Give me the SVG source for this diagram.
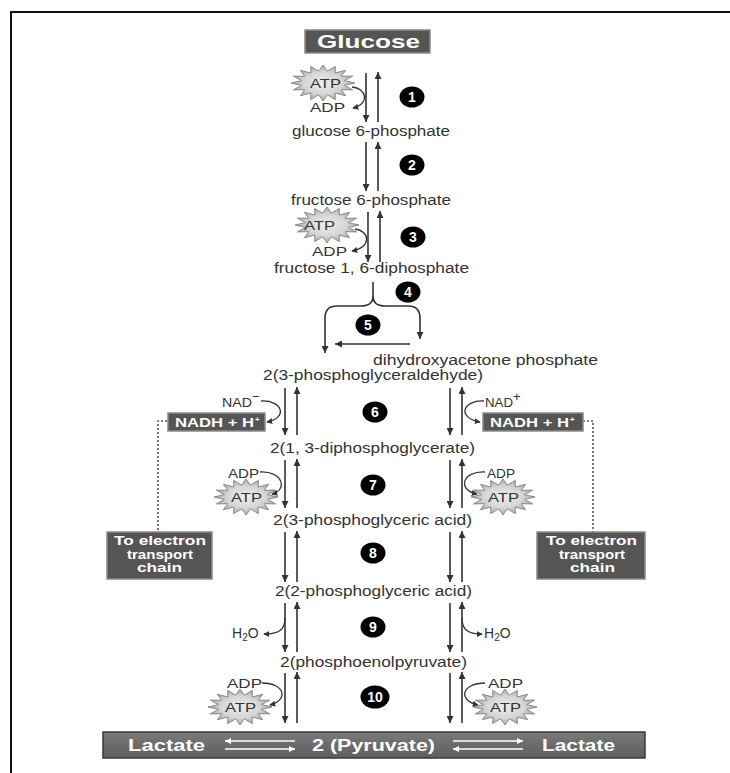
<svg xmlns="http://www.w3.org/2000/svg" width="730" height="773" viewBox="0 0 730 773">
<defs>
<style>
.lbl{font-family:"Liberation Sans",Arial,sans-serif;font-size:14px;fill:#333}
.sm{font-family:"Liberation Sans",Arial,sans-serif;font-size:13px;fill:#333}
.wb{font-family:"Liberation Sans",Arial,sans-serif;font-weight:bold;fill:#fff}
.num{font-family:"Liberation Sans",Arial,sans-serif;font-weight:bold;font-size:14px;fill:#fff;text-anchor:middle}
.ar{stroke:#333;stroke-width:1.6;fill:none;marker-end:url(#ah)}
.cv{stroke:#333;stroke-width:1.3;fill:none;marker-end:url(#ahs)}
.wa{stroke:#fff;stroke-width:1.4;fill:none;marker-end:url(#ahw)}
.dot{stroke:#555;stroke-width:1.6;fill:none;stroke-dasharray:2 2}
.box{fill:#555;stroke:#8a8a8a;stroke-width:1.5}
.star{fill:url(#sg);stroke:#8a8a8a;stroke-width:1}
</style>
<radialGradient id="sg" cx="50%" cy="50%" r="50%">
<stop offset="0" stop-color="#ececec"/>
<stop offset="0.6" stop-color="#d6d6d6"/>
<stop offset="1" stop-color="#a8a8a8"/>
</radialGradient>
<linearGradient id="bg" x1="0" y1="0" x2="0" y2="1">
<stop offset="0" stop-color="#7a7a7a"/>
<stop offset="1" stop-color="#5e5e5e"/>
</linearGradient>
<marker id="ah" viewBox="0 0 8 8" markerWidth="7" markerHeight="7" refX="8" refY="4" orient="auto" markerUnits="userSpaceOnUse">
<path d="M0,0 L8,4 L0,8 z" fill="#333"/>
</marker>
<marker id="ahs" viewBox="0 0 8 8" markerWidth="6" markerHeight="6" refX="7" refY="4" orient="auto" markerUnits="userSpaceOnUse">
<path d="M0,0 L8,4 L0,8 z" fill="#333"/>
</marker>
<marker id="ahw" viewBox="0 0 8 8" markerWidth="7" markerHeight="6" refX="8" refY="4" orient="auto" markerUnits="userSpaceOnUse">
<path d="M0,0 L8,4 L0,8 z" fill="#fff"/>
</marker>
<path id="burst" d="M32,0 L21.6,2.3 L29.6,6.9 L18.3,6.7 L22.6,12.7 L12.2,10 L12.3,16.6 L4.3,11.8 L0,18 L-4.3,11.8 L-12.3,16.6 L-12.2,10 L-22.6,12.7 L-18.3,6.7 L-29.6,6.9 L-21.6,2.3 L-32,0 L-21.6,-2.3 L-29.6,-6.9 L-18.3,-6.7 L-22.6,-12.7 L-12.2,-10 L-12.3,-16.6 L-4.3,-11.8 L0,-18 L4.3,-11.8 L12.3,-16.6 L12.2,-10 L22.6,-12.7 L18.3,-6.7 L29.6,-6.9 L21.6,-2.3 Z"/>
</defs>

<rect x="0" y="0" width="730" height="773" fill="#fff"/>
<g id="frame" stroke="#111" stroke-width="2" fill="none">
<line x1="10" y1="12" x2="730" y2="12"/>
<line x1="11" y1="11" x2="11" y2="773"/>
</g>

<g id="connectors">
<line class="ar" x1="366" y1="73" x2="366" y2="122"/>
<line class="ar" x1="378" y1="122" x2="378" y2="72"/>
<line class="ar" x1="366" y1="142" x2="366" y2="191"/>
<line class="ar" x1="378" y1="191" x2="378" y2="142"/>
<line class="ar" x1="368" y1="212" x2="368" y2="262"/>
<line class="ar" x1="380" y1="262" x2="380" y2="211"/>
<path class="cv" d="M352,87 C367,88 370,104 353,108"/>
<path class="cv" d="M355,229 C370,231 372,247 352,251"/>
<path class="ar" d="M373,282 L373,296 Q373,306 361,306 L337,306 Q325,306 325,318 L325,353"/>
<path class="ar" d="M373,296 Q373,306 385,306 L408,306 Q420,306 420,318 L420,339"/>
<line class="ar" x1="410" y1="344" x2="335" y2="344"/>
<line class="ar" x1="285" y1="388" x2="285" y2="435"/>
<line class="ar" x1="297" y1="435" x2="297" y2="387"/>
<line class="ar" x1="285" y1="460" x2="285" y2="508"/>
<line class="ar" x1="297" y1="508" x2="297" y2="459"/>
<line class="ar" x1="285" y1="532" x2="285" y2="582"/>
<line class="ar" x1="297" y1="582" x2="297" y2="531"/>
<line class="ar" x1="285" y1="603" x2="285" y2="652"/>
<line class="ar" x1="297" y1="652" x2="297" y2="602"/>
<line class="ar" x1="285" y1="673" x2="285" y2="723"/>
<line class="ar" x1="297" y1="723" x2="297" y2="672"/>
<line class="ar" x1="450" y1="388" x2="450" y2="435"/>
<line class="ar" x1="462" y1="435" x2="462" y2="387"/>
<line class="ar" x1="450" y1="460" x2="450" y2="508"/>
<line class="ar" x1="462" y1="508" x2="462" y2="459"/>
<line class="ar" x1="450" y1="532" x2="450" y2="582"/>
<line class="ar" x1="462" y1="582" x2="462" y2="531"/>
<line class="ar" x1="450" y1="603" x2="450" y2="652"/>
<line class="ar" x1="462" y1="652" x2="462" y2="602"/>
<line class="ar" x1="450" y1="673" x2="450" y2="723"/>
<line class="ar" x1="462" y1="723" x2="462" y2="672"/>
<path class="cv" d="M261,401 C283,400 288,418 267,422"/>
<path class="cv" d="M484,401 C462,400 457,418 480,422"/>
<path class="cv" d="M260,472 C283,471 288,490 272,494"/>
<path class="cv" d="M485,472 C462,471 457,490 477,494"/>
<path class="cv" d="M285,618 C285,630 279,634 264,634"/>
<path class="cv" d="M462,618 C462,630 468,634 482,634"/>
<path class="cv" d="M262,683 C285,683 289,700 270,705"/>
<path class="cv" d="M485,683 C462,683 457,700 478,705"/>
<path class="dot" d="M167,421 L158,421 L158,532"/>
<path class="dot" d="M583,421 L593,421 L593,532"/>
</g>

<g id="glucose">
<rect class="box" x="305" y="30" width="125" height="23"/>
<text class="wb" x="317" y="48" font-size="18" textLength="103" lengthAdjust="spacingAndGlyphs">Glucose</text>
</g>

<g id="atp1">
<use href="#burst" class="star" transform="translate(323,83)"/>
<text class="sm" x="310" y="88" textLength="31" lengthAdjust="spacingAndGlyphs">ATP</text>
<text class="sm" x="310" y="112" textLength="35" lengthAdjust="spacingAndGlyphs">ADP</text>
</g>
<g id="step1"><ellipse cx="412" cy="97" rx="12.5" ry="10.5"/><text class="num" x="412" y="102">1</text></g>
<g id="g6p"><text class="lbl" x="292" y="136" textLength="158" lengthAdjust="spacingAndGlyphs">glucose 6-phosphate</text></g>
<g id="step2"><ellipse cx="412" cy="165" rx="12.5" ry="10.5"/><text class="num" x="412" y="170">2</text></g>
<g id="f6p"><text class="lbl" x="291" y="205" textLength="160" lengthAdjust="spacingAndGlyphs">fructose 6-phosphate</text></g>
<g id="atp3">
<use href="#burst" class="star" transform="translate(327,225)"/>
<text class="sm" x="304" y="230" textLength="31" lengthAdjust="spacingAndGlyphs">ATP</text>
<text class="sm" x="312" y="256" textLength="35" lengthAdjust="spacingAndGlyphs">ADP</text>
</g>
<g id="step3"><ellipse cx="413" cy="237" rx="12.5" ry="10.5"/><text class="num" x="413" y="242">3</text></g>
<g id="f16dp"><text class="lbl" x="274" y="273" textLength="195" lengthAdjust="spacingAndGlyphs">fructose 1, 6-diphosphate</text></g>
<g id="step4"><ellipse cx="408" cy="292" rx="12.5" ry="10.5"/><text class="num" x="408" y="297">4</text></g>
<g id="step5"><ellipse cx="368" cy="325" rx="12.5" ry="10.5"/><text class="num" x="368" y="330">5</text></g>
<g id="dhap"><text class="lbl" x="373" y="365" textLength="225" lengthAdjust="spacingAndGlyphs">dihydroxyacetone phosphate</text></g>
<g id="g3p"><text class="lbl" x="263" y="380" textLength="220" lengthAdjust="spacingAndGlyphs">2(3-phosphoglyceraldehyde)</text></g>

<g id="nad-left">
<text class="sm" x="222" y="407" textLength="30" lengthAdjust="spacingAndGlyphs">NAD</text>
<text class="sm" x="252" y="401" font-size="9">−</text>
</g>
<g id="nadh-left">
<rect class="box" x="168" y="413" width="97" height="18"/>
<text class="wb" x="175" y="427" font-size="13" textLength="79" lengthAdjust="spacingAndGlyphs">NADH + H</text>
<text class="wb" x="255" y="422" font-size="8">+</text>
</g>
<g id="nad-right">
<text class="sm" x="485" y="407" textLength="28" lengthAdjust="spacingAndGlyphs">NAD</text>
<text class="sm" x="513" y="401" font-size="9">+</text>
</g>
<g id="nadh-right">
<rect class="box" x="483" y="413" width="100" height="18"/>
<text class="wb" x="490" y="427" font-size="13" textLength="79" lengthAdjust="spacingAndGlyphs">NADH + H</text>
<text class="wb" x="570" y="422" font-size="8">+</text>
</g>
<g id="step6"><ellipse cx="375" cy="412" rx="12.5" ry="10.5"/><text class="num" x="375" y="417">6</text></g>
<g id="dpg"><text class="lbl" x="270" y="453" textLength="205" lengthAdjust="spacingAndGlyphs">2(1, 3-diphosphoglycerate)</text></g>

<g id="atp7-left">
<text class="sm" x="228" y="478" textLength="31" lengthAdjust="spacingAndGlyphs">ADP</text>
<use href="#burst" class="star" transform="translate(246,497)"/>
<text class="sm" x="231" y="502" textLength="31" lengthAdjust="spacingAndGlyphs">ATP</text>
</g>
<g id="atp7-right">
<text class="sm" x="487" y="478" textLength="28" lengthAdjust="spacingAndGlyphs">ADP</text>
<use href="#burst" class="star" transform="translate(503,497)"/>
<text class="sm" x="488" y="502" textLength="31" lengthAdjust="spacingAndGlyphs">ATP</text>
</g>
<g id="step7"><ellipse cx="373" cy="485" rx="12.5" ry="10.5"/><text class="num" x="373" y="490">7</text></g>
<g id="pga3"><text class="lbl" x="273" y="525" textLength="199" lengthAdjust="spacingAndGlyphs">2(3-phosphoglyceric acid)</text></g>

<g id="etc-left">
<rect class="box" x="107" y="532" width="105" height="47"/>
<text class="wb" x="114" y="545" font-size="12" textLength="92" lengthAdjust="spacingAndGlyphs">To electron</text>
<text class="wb" x="127" y="558.5" font-size="12" textLength="66" lengthAdjust="spacingAndGlyphs">transport</text>
<text class="wb" x="137" y="572" font-size="12" textLength="45" lengthAdjust="spacingAndGlyphs">chain</text>
</g>
<g id="etc-right">
<rect class="box" x="537" y="532" width="108" height="47"/>
<text class="wb" x="546" y="545" font-size="12" textLength="91" lengthAdjust="spacingAndGlyphs">To electron</text>
<text class="wb" x="559" y="558.5" font-size="12" textLength="66" lengthAdjust="spacingAndGlyphs">transport</text>
<text class="wb" x="570" y="572" font-size="12" textLength="45" lengthAdjust="spacingAndGlyphs">chain</text>
</g>
<g id="step8"><ellipse cx="373" cy="553" rx="12.5" ry="10.5"/><text class="num" x="373" y="558">8</text></g>
<g id="pga2"><text class="lbl" x="275" y="596" textLength="197" lengthAdjust="spacingAndGlyphs">2(2-phosphoglyceric acid)</text></g>

<g id="h2o-left"><text class="lbl" x="232" y="638">H<tspan font-size="10" dy="3">2</tspan><tspan dy="-3">O</tspan></text></g>
<g id="h2o-right"><text class="lbl" x="484" y="638">H<tspan font-size="10" dy="3">2</tspan><tspan dy="-3">O</tspan></text></g>
<g id="step9"><ellipse cx="373" cy="627" rx="12.5" ry="10.5"/><text class="num" x="373" y="632">9</text></g>
<g id="pep"><text class="lbl" x="280" y="667" textLength="187" lengthAdjust="spacingAndGlyphs">2(phosphoenolpyruvate)</text></g>

<g id="atp10-left">
<text class="sm" x="227" y="688" textLength="35" lengthAdjust="spacingAndGlyphs">ADP</text>
<use href="#burst" class="star" transform="translate(240,707)"/>
<text class="sm" x="225" y="712" textLength="31" lengthAdjust="spacingAndGlyphs">ATP</text>
</g>
<g id="atp10-right">
<text class="sm" x="488" y="688" textLength="35" lengthAdjust="spacingAndGlyphs">ADP</text>
<use href="#burst" class="star" transform="translate(505,707)"/>
<text class="sm" x="490" y="712" textLength="31" lengthAdjust="spacingAndGlyphs">ATP</text>
</g>
<g id="step10"><ellipse cx="375" cy="697" rx="14.5" ry="11.5"/><text class="num" x="375" y="702" font-size="14">10</text></g>

<g id="pyruvate-bar">
<rect x="103" y="732" width="542" height="26" fill="url(#bg)" stroke="#3a3a3a" stroke-width="1.5"/>
<text class="wb" x="128" y="751" font-size="16" textLength="77" lengthAdjust="spacingAndGlyphs">Lactate</text>
<text class="wb" x="312" y="751" font-size="16" textLength="123" lengthAdjust="spacingAndGlyphs">2 (Pyruvate)</text>
<text class="wb" x="542" y="751" font-size="16" textLength="73" lengthAdjust="spacingAndGlyphs">Lactate</text>
<line class="wa" x1="295" y1="741" x2="225" y2="741"/>
<line class="wa" x1="225" y1="749" x2="295" y2="749"/>
<line class="wa" x1="453" y1="741" x2="523" y2="741"/>
<line class="wa" x1="523" y1="749" x2="453" y2="749"/>
</g>
</svg>
